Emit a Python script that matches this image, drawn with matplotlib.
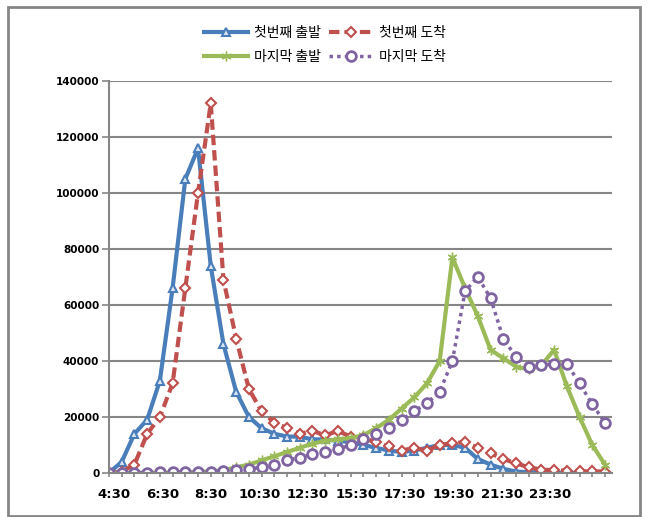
import matplotlib

matplotlib.use("Agg")

import matplotlib.pyplot as plt
from matplotlib.patches import Rectangle


# Half-hour time slots; the axis labels are spread a little under 4 slots apart
tick_labels = ["4:30", "6:30", "8:30", "10:30", "12:30",
               "15:30", "17:30", "19:30", "21:30", "23:30"]
label_start = 0.4
label_step = 3.81

first_depart = [0, 4000, 14000, 19000, 33000, 66000, 105000, 116000, 74000, 46000,
                29000, 20000, 16000, 14000, 13000, 13000, 12000, 12000, 11500, 11000,
                10000, 9000, 8000, 7500, 8000, 9000, 10000, 10000, 9000, 5000,
                3000, 1500, 500, 300, 200, 100, 0, 0, 0, 0]
first_arrive = [0, 500, 3000, 14000, 20000, 32000, 66000, 100000, 132000, 69000,
                48000, 30000, 22000, 18000, 16000, 14000, 15000, 13500, 15000, 13000,
                12500, 11000, 9500, 8000, 9000, 8000, 10000, 10700, 11000, 9000,
                7000, 5000, 3500, 2000, 1200, 1000, 800, 600, 600, 500]
last_depart = [0, 0, 100, 100, 100, 200, 200, 400, 600, 1000,
               2000, 3000, 4500, 6000, 7500, 9000, 10500, 11500, 12000, 12500,
               13500, 16000, 19000, 23000, 27000, 32000, 40000, 77000, 66000, 56000,
               44000, 41000, 38000, 37000, 38500, 44000, 31000, 20000, 10000, 3000]
last_arrive = [100, 100, 100, 100, 200, 200, 300, 400, 500, 700,
               1000, 1500, 2000, 3000, 4500, 5500, 6800, 7500, 8500, 10000,
               12000, 14000, 16000, 19000, 22000, 25000, 29000, 40000, 65000, 70000,
               62500, 48000, 41500, 38000, 38500, 39000, 39000, 32000, 24500, 18000]

BLUE = "#4a7ebb"
RED = "#c0504d"
GREEN = "#9bbb59"
PURPLE = "#8064a2"

plt.rcParams["font.family"] = ["Noto Sans CJK KR", "DejaVu Sans"]

fig = plt.figure(figsize=(6.48, 5.17), dpi=100)
ax = fig.add_axes([109 / 648, 1 - 473 / 517, (612 - 109) / 648, (473 - 81) / 517])

x = list(range(len(first_depart)))

ax.plot(x, first_depart, color=BLUE, lw=3, marker="^", ms=6,
        mfc="#dce6f2", mec=BLUE, mew=1.5, label="첫번째 출발")
ax.plot(x, first_arrive, color=RED, lw=3, ls=(0, (2.5, 1.2)), marker="D", ms=5,
        mfc="white", mec=RED, mew=1.5, label="첫번째 도착")
ax.plot(x, last_depart, color=GREEN, lw=3, marker=(6, 2, 0), ms=7,
        mec=GREEN, mew=1, label="마지막 출발")
ax.plot(x, last_arrive, color=PURPLE, lw=2.5, ls=(0, (1, 1.2)), marker="o", ms=7,
        mfc="white", mec=PURPLE, mew=2, label="마지막 도착")

ax.set_xlim(0, len(x) - 1 + 0.55)
ax.set_ylim(0, 140000)
ax.set_yticks(range(0, 140001, 20000))
ax.set_yticklabels([str(v) for v in range(0, 140001, 20000)],
                   fontsize=7.5, fontweight="bold", family="DejaVu Sans")
ax.set_xticks([label_start + label_step * i for i in range(len(tick_labels))])
ax.set_xticklabels(tick_labels, fontsize=9.5, fontweight="bold", family="DejaVu Sans")
ax.set_xticks(x, minor=True)

ax.grid(axis="y", color="#868686", lw=1.5)
ax.set_axisbelow(True)
for side in ["top", "right"]:
    ax.spines[side].set_visible(False)
for side in ["left", "bottom"]:
    ax.spines[side].set_color("#868686")
    ax.spines[side].set_linewidth(1.5)
ax.tick_params(axis="both", which="both", direction="out", color="#868686", width=1.2)
ax.tick_params(axis="y", length=5, pad=2)
ax.tick_params(axis="x", which="major", length=0, pad=11)
ax.tick_params(axis="x", which="minor", length=3)

handles, labels = ax.get_legend_handles_labels()
order = [0, 2, 1, 3]
fig.legend([handles[i] for i in order], [labels[i] for i in order],
           loc="center", bbox_to_anchor=(325 / 648, 1 - 45 / 517), ncol=2,
           frameon=False, fontsize=10, handlelength=3.2, columnspacing=0.6,
           handletextpad=0.4, labelspacing=0.75)

fig.patches.append(Rectangle((8 / 648, 1 - 516 / 517), 632 / 648, 509 / 517,
                             transform=fig.transFigure, fill=False,
                             edgecolor="#868686", lw=2))

fig.savefig("out.png", dpi=100)
